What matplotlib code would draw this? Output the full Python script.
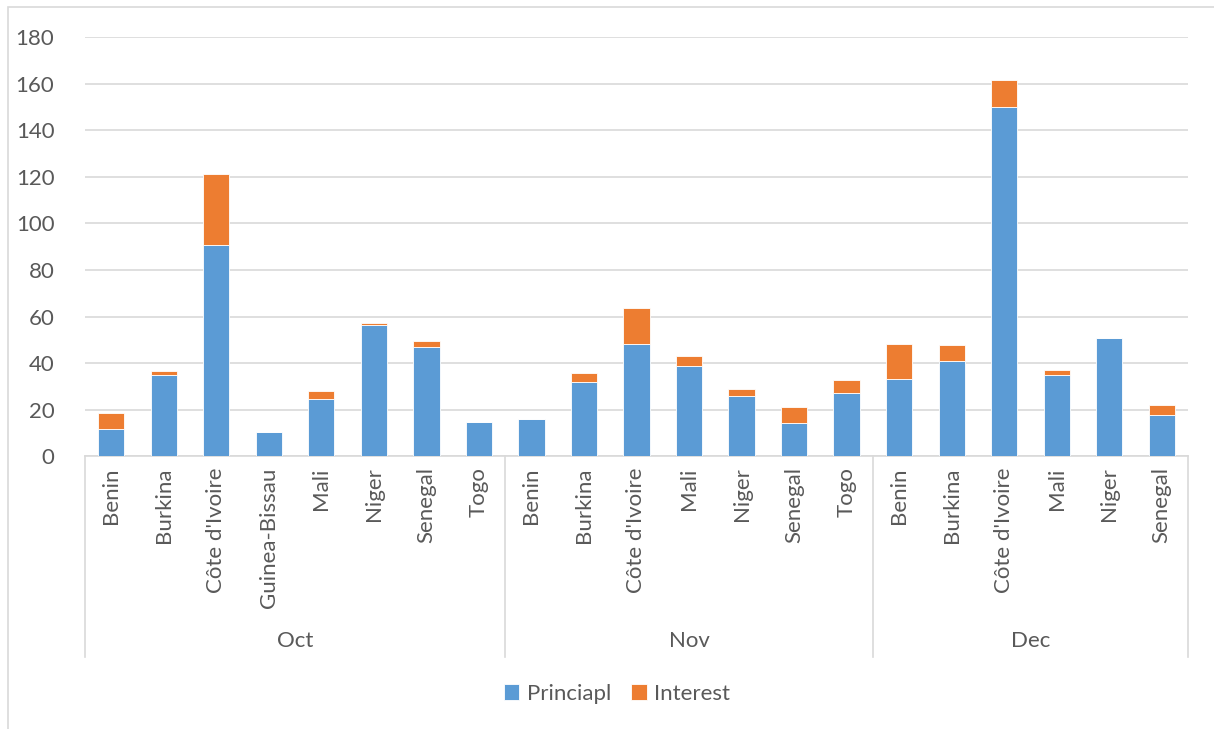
import matplotlib
matplotlib.use("Agg")
import matplotlib.pyplot as plt
from matplotlib.lines import Line2D
from matplotlib.patches import Rectangle
import numpy as np

plt.rcParams['font.family'] = ['Lato', 'DejaVu Sans']

months = ["Oct", "Nov", "Dec"]
oct_countries = ["Benin", "Burkina", "Côte d'Ivoire", "Guinea-Bissau", "Mali", "Niger", "Senegal", "Togo"]
nov_countries = ["Benin", "Burkina", "Côte d'Ivoire", "Mali", "Niger", "Senegal", "Togo"]
dec_countries = ["Benin", "Burkina", "Côte d'Ivoire", "Mali", "Niger", "Senegal"]

oct_principal = [11.6, 35.0, 90.9, 10.5, 24.8, 56.2, 46.9, 14.6]
oct_interest = [7.0, 1.5, 30.2, 0.0, 3.3, 1.1, 2.6, 0.0]
nov_principal = [15.9, 31.8, 48.4, 38.6, 26.1, 14.2, 27.3]
nov_interest = [0.0, 4.1, 15.3, 4.3, 2.7, 6.9, 5.6]
dec_principal = [33.1, 41.0, 149.8, 35.1, 50.8, 17.7]
dec_interest = [15.3, 6.9, 11.6, 1.9, 0.0, 4.5]

series_names = ["Princiapl", "Interest"]
colors = ["#5B9BD5", "#ED7D31"]
yticks = [0, 20, 40, 60, 80, 100, 120, 140, 160, 180]

groups = [oct_countries, nov_countries, dec_countries]
categories = oct_countries + nov_countries + dec_countries
principal = np.array(oct_principal + nov_principal + dec_principal)
interest = np.array(oct_interest + nov_interest + dec_interest)
x = np.arange(len(categories))

FS = 16
W, H = 1214, 729
fig = plt.figure(figsize=(W / 100, H / 100), dpi=100)
fig.patch.set_facecolor("white")

# outer chart border
fig.patches.append(Rectangle((8 / W, -0.01), 1.1, 1 - 7 / H + 0.01, transform=fig.transFigure,
                             fill=False, edgecolor="#D9D9D9", linewidth=1.2))

ax_left, ax_right, ax_top, ax_bottom = 85, 1188, 37, 456.4
ax = fig.add_axes([ax_left / W, 1 - ax_bottom / H, (ax_right - ax_left) / W, (ax_bottom - ax_top) / H])
axh = ax_bottom - ax_top

ax.bar(x, principal, width=0.5, color=colors[0], edgecolor="white", linewidth=0.6,
       label=series_names[0], zorder=3)
ax.bar(x, interest, width=0.5, bottom=principal, color=colors[1], edgecolor="white", linewidth=0.6,
       label=series_names[1], zorder=3)

ax.set_xlim(-0.5, len(categories) - 0.5)
ax.set_ylim(0, 180)
ax.set_yticks(yticks)
ax.set_yticklabels([str(v) for v in yticks], fontsize=FS, color="#595959")
ax.yaxis.grid(True, color="#D9D9D9", linewidth=1.2, zorder=0)
ax.tick_params(axis="y", length=0, pad=22)
ax.set_xticks([])
for s in ["left", "right", "top"]:
    ax.spines[s].set_visible(False)
ax.spines["bottom"].set_color("#D9D9D9")
ax.spines["bottom"].set_linewidth(1.2)

trans = ax.get_xaxis_transform()
for xi, name in zip(x, categories):
    ax.text(xi, -11 / axh, name, transform=trans, rotation=90, ha="center", va="top",
            fontsize=FS, color="#595959")

# group separators & month labels
bounds = [-0.5]
for g in groups:
    bounds.append(bounds[-1] + len(g))
for b in bounds:
    ax.add_line(Line2D([b, b], [0, -(657 - 456.4) / axh], transform=trans, color="#D9D9D9",
                       linewidth=1.2, clip_on=False))
for i, m in enumerate(months):
    ax.text((bounds[i] + bounds[i + 1]) / 2, -(641 - 456.4) / axh, m, transform=trans,
            ha="center", va="center", fontsize=FS, color="#595959")

leg = fig.legend(loc="center", bbox_to_anchor=(617 / W, 1 - 694 / H), ncol=2, frameon=False,
                 fontsize=FS, handlelength=0.7, handleheight=0.7, handletextpad=0.35,
                 columnspacing=0.9, labelcolor="#595959")

fig.savefig("out.png", dpi=100, facecolor="white")
